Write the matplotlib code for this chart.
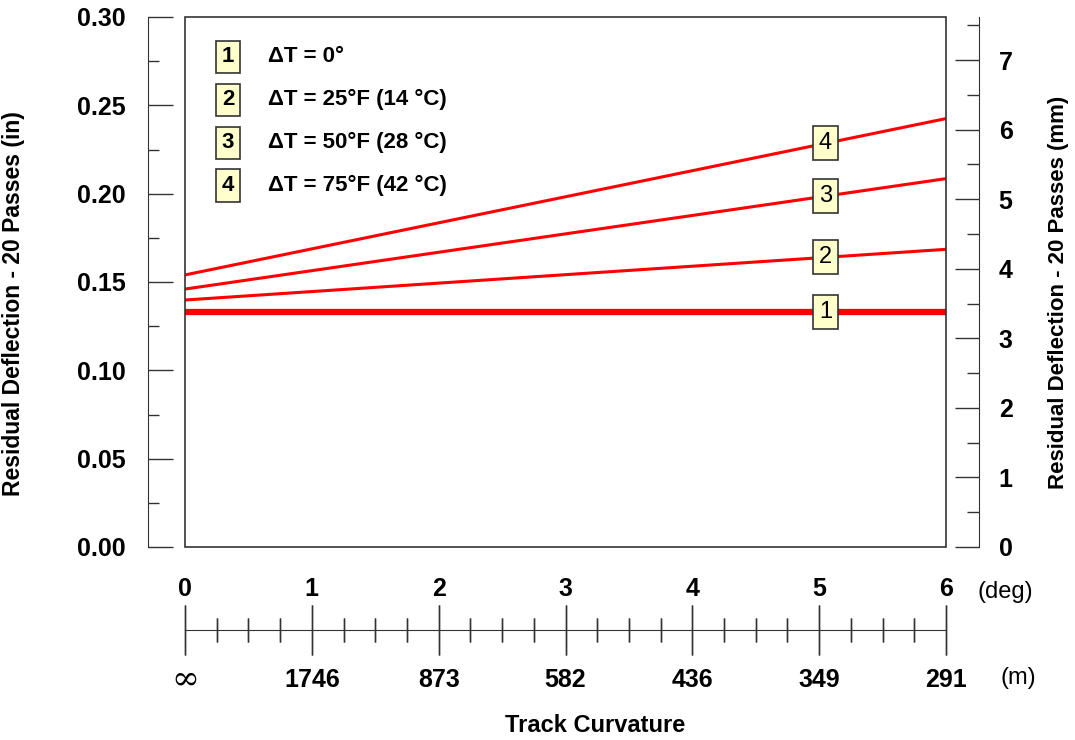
import matplotlib
matplotlib.use("Agg")
import matplotlib.pyplot as plt
from matplotlib.ticker import MultipleLocator, FormatStrFormatter
from matplotlib.patches import Rectangle

plt.rcParams['font.family'] = ['Liberation Sans', 'DejaVu Sans']

# data
curv_deg = [0, 6]
series_ids = ["1", "2", "3", "4"]
series_labels = ["\u0394T = 0\u00b0", "\u0394T = 25\u00b0F (14 \u00b0C)",
                 "\u0394T = 50\u00b0F (28 \u00b0C)", "\u0394T = 75\u00b0F (42 \u00b0C)"]
defl_in = [[0.133, 0.133],
           [0.1398, 0.1685],
           [0.146, 0.2085],
           [0.154, 0.2425]]
tag_x = 5.05
deg_ticks = [0, 1, 2, 3, 4, 5, 6]
radius_m = ["\u221e", "1746", "873", "582", "436", "349", "291"]

W, H = 1075, 740
fig = plt.figure(figsize=(W / 100, H / 100), dpi=100)

def fx(px):
    return px / W

def fy(py):
    return (H - py) / H

ax = fig.add_axes([fx(185), fy(547), fx(946) - fx(185), fy(17) - fy(547)])
ax.set_xlim(0, 6)
ax.set_ylim(0, 0.30)

for i, ys in enumerate(defl_in):
    lw = 4.5 if i == 0 else 2.2
    ax.plot(curv_deg, ys, color="#ff0000", lw=lw, solid_capstyle="butt", zorder=3)
    yt = ys[0] + (ys[1] - ys[0]) * tag_x / 6
    ax.text(tag_x, yt, series_ids[i], fontsize=17, ha="center", va="center", zorder=5,
            bbox=dict(boxstyle="square,pad=0.25", fc="#ffffcc", ec="#333333", lw=1.2))

# legend
for i, lab in enumerate(series_labels):
    ypos = 0.925 - i * 0.081
    ax.text(0.0565, ypos, series_ids[i], transform=ax.transAxes, fontsize=16,
            ha="center", va="center", fontweight="bold",
            bbox=dict(boxstyle="square,pad=0.25", fc="#ffffcc", ec="#333333", lw=1.2))
    ax.text(0.109, ypos, lab, transform=ax.transAxes, fontsize=16,
            ha="left", va="center", fontweight="bold")

# box
ax.add_patch(Rectangle((0, 0), 1, 1, transform=ax.transAxes, fill=False,
                       ec="#333333", lw=1.2, zorder=6, clip_on=False))
for s in ["top", "bottom", "right"]:
    ax.spines[s].set_visible(False)
ax.spines["left"].set_position(("outward", 27))
ax.spines["left"].set_color("#333333")
ax.set_xticks([])
ax.yaxis.set_major_locator(MultipleLocator(0.05))
ax.yaxis.set_minor_locator(MultipleLocator(0.025))
ax.tick_params(axis="y", which="major", direction="in", length=18, width=1, pad=16,
               labelsize=18, color="#333333")
ax.tick_params(axis="y", which="minor", direction="in", length=8, width=1, color="#333333")
ax.yaxis.set_major_formatter(FormatStrFormatter("%.2f"))
for t in ax.get_yticklabels():
    t.set_fontweight("bold")
ax.set_ylabel("Residual Deflection - 20 Passes (in)", fontsize=16.5, fontweight="bold")
ax.yaxis.set_label_coords(-0.21, 0.46)

# right mm axis
ax2 = ax.twinx()
ax2.set_ylim(0, 0.30 * 25.4)
for s in ["top", "bottom", "left"]:
    ax2.spines[s].set_visible(False)
ax2.spines["right"].set_position(("outward", 24))
ax2.spines["right"].set_color("#333333")
ax2.yaxis.set_major_locator(MultipleLocator(1))
ax2.yaxis.set_minor_locator(MultipleLocator(0.5))
ax2.tick_params(axis="y", which="major", direction="in", length=17, width=1, pad=14,
                labelsize=18, color="#333333")
ax2.tick_params(axis="y", which="minor", direction="in", length=9, width=1, color="#333333")
for t in ax2.get_yticklabels():
    t.set_fontweight("bold")
ax2.set_ylabel("Residual Deflection - 20 Passes (mm)", fontsize=16, fontweight="bold")
ax2.yaxis.set_label_coords(1.134, 0.48)

# curvature scale
ax3 = fig.add_axes([fx(185), fy(630), fx(946) - fx(185), 0.0001])
ax3.set_xlim(0, 6)
ax3.set_yticks([])
for s in ["top", "left", "right"]:
    ax3.spines[s].set_visible(False)
ax3.spines["bottom"].set_color("#333333")
ax3.patch.set_visible(False)
ax3.set_xticks(deg_ticks)
ax3.xaxis.set_minor_locator(MultipleLocator(0.25))
ax3.tick_params(axis="x", which="major", direction="inout", length=36, width=1,
                top=True, bottom=True, labeltop=True, labelbottom=False,
                labelsize=18, pad=3, color="#333333")
ax3.tick_params(axis="x", which="minor", direction="inout", length=17, width=1,
                top=True, bottom=True, color="#333333")
for t in ax3.get_xticklabels():
    t.set_fontweight("bold")

x0, x1 = fx(185), fx(946)
for d, r in zip(deg_ticks, radius_m):
    xp = x0 + (x1 - x0) * d / 6
    if r == "\u221e":
        fig.text(xp, fy(680), r, fontsize=24, family="DejaVu Serif",
                 ha="center", va="center")
    else:
        fig.text(xp, fy(680), r, fontsize=18, fontweight="bold",
                 ha="center", va="center")

fig.text(fx(1005), fy(592), "(deg)", fontsize=17, ha="center", va="center")
fig.text(fx(1018), fy(678), "(m)", fontsize=17, ha="center", va="center")
fig.text(fx(595), fy(725), "Track Curvature", fontsize=17, fontweight="bold",
         ha="center", va="center")

fig.savefig("out.png", dpi=100)
